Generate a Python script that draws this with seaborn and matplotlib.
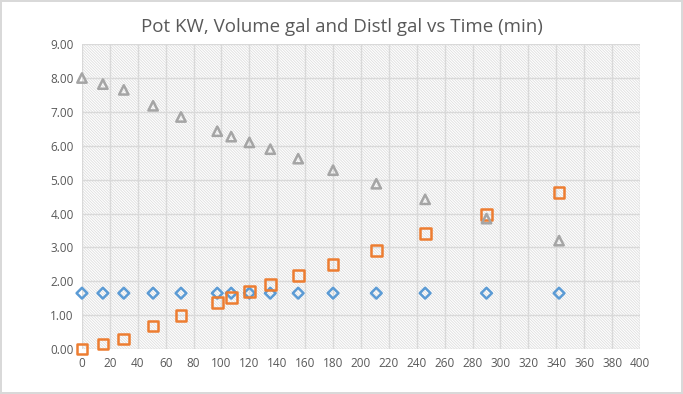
import matplotlib
matplotlib.use("Agg")
import matplotlib.pyplot as plt
import pandas as pd
import seaborn as sns

time_min = [0, 15, 30, 51, 71, 97, 107, 120, 135, 155, 180, 211, 246, 290, 342]
pot_kw = [1.65] * 15
distl_gal = [0.0, 0.15, 0.30, 0.68, 1.00, 1.38, 1.53, 1.70, 1.90, 2.18, 2.50, 2.92, 3.40, 3.97, 4.62]
volume_gal = [8.00, 7.82, 7.65, 7.18, 6.85, 6.43, 6.27, 6.10, 5.90, 5.62, 5.28, 4.88, 4.42, 3.85, 3.20]

df = pd.DataFrame({"time": time_min, "pot": pot_kw, "distl": distl_gal, "vol": volume_gal})

sns.set_theme(style="white")
plt.rcParams["font.family"] = ["Open Sans", "DejaVu Sans"]
plt.rcParams["hatch.linewidth"] = 0.6

fig = plt.figure(figsize=(6.83, 3.94), dpi=100)
fig.patch.set_edgecolor("#d9d9d9")
fig.patch.set_linewidth(1.5)
ax = fig.add_axes([0.12, 0.114, 0.817, 0.774])

# hatched plot area
ax.patch.set_facecolor("white")
ax.patch.set_hatch("\\" * 12)
ax.patch.set_edgecolor("#dedede")

series = [
    ("pot", "D", "#5b9bd5", 30),
    ("distl", "s", "#ed7d31", 60),
    ("vol", "^", "#a5a5a5", 45),
]
for col, mk, colr, size in series:
    sns.scatterplot(data=df, x="time", y=col, marker=mk, s=size, facecolors="none",
                    edgecolor=colr, linewidth=1.8, ax=ax, zorder=3, clip_on=False)

ax.set_xlim(0, 400)
ax.set_ylim(0, 9)
ax.set_xticks(range(0, 401, 20))
ax.set_yticks(range(0, 10))
ax.set_yticklabels([f"{v:.2f}" for v in range(0, 10)])
ax.grid(True, color="#d9d9d9", linewidth=1)
ax.set_axisbelow(True)
for s in ax.spines.values():
    s.set_visible(False)
ax.tick_params(length=0, labelsize=8.5, labelcolor="#595959", pad=6)
ax.set_xlabel("")
ax.set_ylabel("")
fig.suptitle("Pot KW, Volume gal and Distl gal vs Time (min)", y=0.955,
             fontsize=13.5, color="#595959")

fig.savefig("out.png", dpi=100)
